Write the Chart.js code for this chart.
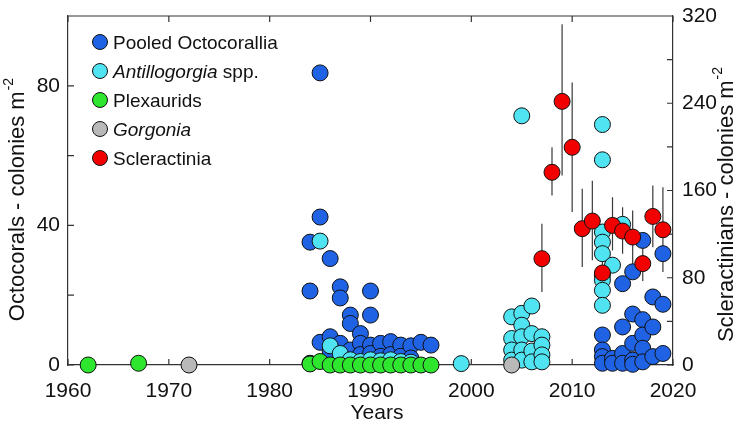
<!DOCTYPE html>
<html>
<head>
<meta charset="utf-8">
<script src="https://cdn.jsdelivr.net/npm/chart.js@4.4.0/dist/chart.umd.min.js"></script>
<style>
    body { margin: 0; background: #fff; }
    #wrap { position: relative; width: 751px; height: 425px; font-family: "Liberation Sans", Arial, sans-serif; }
    #legend { position: absolute; left: 92px; top: 34px; font-size: 19px; color: #111; }
    .row { height: 29px; line-height: 18px; white-space: nowrap; }
    .dot { display: inline-block; width: 16px; height: 16px; border-radius: 50%; border: 1px solid #111;
           box-sizing: border-box; vertical-align: top; margin-right: 5px; }
</style>
</head>
<body>
<div id="wrap">
    <canvas id="coralChart" width="751" height="425"></canvas>
    <div id="legend"></div>
</div>
<script>
// tick values
const yearTicks = [1960, 1970, 1980, 1990, 2000, 2010, 2020];
const octoTicks = [0, 40, 80];
const sclerTicks = [0, 80, 160, 240, 320];

// Pooled Octocorallia (colonies m-2)
const pooledYears = [1984, 1984, 1984, 1985, 1985, 1985, 1986, 1986, 1986, 1987, 1987, 1987,
    1988, 1988, 1988, 1989, 1989, 1989, 1990, 1990, 1990, 1990, 1991, 1991, 1992, 1992,
    1993, 1993, 1994, 1994, 1995, 1996,
    2013, 2013, 2013, 2013, 2014, 2014, 2015, 2015, 2015, 2015, 2016, 2016, 2016, 2016, 2016,
    2017, 2017, 2017, 2017, 2017, 2018, 2018, 2018, 2019, 2019, 2019];
const pooledValues = [35.2, 21.2, 0.5, 83.7, 42.4, 6.5, 30.5, 8.1, 4, 22.4, 19.2, 6.2,
    14.3, 11.9, 4.3, 9.0, 6.2, 3, 21.2, 14.3, 5.7, 3.3, 6.2, 2.5, 6.7, 3,
    5.7, 2.5, 5.5, 2, 6.5, 5.7,
    8.6, 4.3, 2.4, 0.5, 1.9, 0.5, 23.3, 10.9, 3.3, 0.5, 26.7, 14.6, 6.2, 1.4, 0.2,
    35.7, 13.0, 8.6, 4.8, 0.9, 19.5, 10.9, 2.4, 31.9, 17.4, 3.3];

// Antillogorgia spp.
const antiYears = [1985, 1986, 1987, 1988, 1989, 1990, 1991, 1992, 1993, 1994, 1999,
    2004, 2004, 2004, 2004, 2005, 2005, 2005, 2005, 2005, 2005, 2006, 2006, 2006, 2006,
    2007, 2007, 2007, 2007,
    2013, 2013, 2013, 2013, 2013, 2013, 2013, 2013, 2013, 2014, 2015];
const antiValues = [35.5, 5.5, 3.3, 1.5, 1, 1.5, 1.2, 1.5, 1, 0.8, 0.4,
    13.8, 7.6, 4.3, 1.4, 71.4, 14.8, 11.4, 8.1, 4.3, 1.4, 16.9, 9, 4, 0.9,
    8.1, 5.7, 2.9, 0.9,
    68.9, 58.8, 38.1, 35.2, 31.9, 25.7, 24.3, 21.4, 17.1, 28.6, 40.3];

// Plexaurids
const plexYears = [1962, 1967, 1984, 1985, 1986, 1987, 1988, 1989, 1990, 1991, 1992, 1993, 1994, 1995, 1996];
const plexValues = [0, 0.5, 0.3, 1.0, 0, 0, 0, 0, 0, 0, 0, 0, 0, 0, 0];

// Gorgonia
const gorgYears = [1972, 2004];
const gorgValues = [0, 0];

// Scleractinia (right axis) with error bar ends
const sclerYears = [2007, 2008, 2009, 2010, 2011, 2012, 2013, 2014, 2015, 2016, 2017, 2018, 2019];
const sclerValues = [97.5, 176.7, 241.7, 199.6, 125, 132, 84.4, 128, 122.8, 117.3, 93, 136.2, 124];
const sclerLow = [67, 155.4, 173.7, 140.2, 89.9, 96, 66, 105, 102, 86.9, 77, 108, 85.3];
const sclerHigh = [129.5, 199.6, 312.4, 259, 161.5, 169, 102, 153.9, 144.7, 141.7, 111, 164.6, 163];

const colors = {
    pooled: '#1f63e4',
    anti: '#50e4f2',
    plex: '#2ee62e',
    gorg: '#b9b9b9',
    scler: '#f20000'
};

function points(xs, ys) {
    return xs.map((x, i) => ({x: x, y: ys[i]}));
}

function series(label, xs, ys, color, order, axis) {
    return {
        label: label,
        data: points(xs, ys),
        yAxisID: axis,
        backgroundColor: color,
        borderColor: '#111',
        borderWidth: 1,
        pointRadius: 8,
        pointHoverRadius: 8,
        order: order,
        clip: false
    };
}

// inward tick marks, top frame line and error bars, under the points
const framePlugin = {
    id: 'frame',
    beforeDatasetsDraw(chart) {
        let ctx = chart.ctx;
        let a = chart.chartArea;
        let x = chart.scales.x, y = chart.scales.y, y1 = chart.scales.y1;
        ctx.save();
        ctx.strokeStyle = '#333';
        ctx.lineWidth = 1.2;
        ctx.beginPath();
        ctx.moveTo(a.left, a.top);
        ctx.lineTo(a.right, a.top);
        x.ticks.forEach(t => {
            let px = x.getPixelForValue(t.value);
            ctx.moveTo(px, a.bottom); ctx.lineTo(px, a.bottom - 6);
            ctx.moveTo(px, a.top); ctx.lineTo(px, a.top + 6);
        });
        y.ticks.forEach(t => {
            let py = y.getPixelForValue(t.value);
            ctx.moveTo(a.left, py); ctx.lineTo(a.left + 6, py);
        });
        y1.ticks.forEach(t => {
            let py = y1.getPixelForValue(t.value);
            ctx.moveTo(a.right, py); ctx.lineTo(a.right - 6, py);
        });
        ctx.stroke();

        ctx.strokeStyle = '#3a3a3a';
        ctx.lineWidth = 1.2;
        ctx.beginPath();
        sclerYears.forEach((yr, i) => {
            let px = x.getPixelForValue(yr);
            ctx.moveTo(px, y1.getPixelForValue(sclerLow[i]));
            ctx.lineTo(px, y1.getPixelForValue(sclerHigh[i]));
        });
        ctx.stroke();
        ctx.restore();
    },
    afterDraw(chart) {
        let ctx = chart.ctx;
        ctx.save();
        ctx.fillStyle = '#111';
        drawTitle(ctx, 'Octocorals - colonies m', 18, 200);
        drawTitle(ctx, 'Scleractinians - colonies m', 727, 205);
        ctx.font = '21px "Liberation Sans", Arial, sans-serif';
        ctx.textAlign = 'center';
        ctx.textBaseline = 'middle';
        ctx.fillText('Years', 377, 413);
        ctx.restore();
    }
};

function drawTitle(ctx, text, cx, cy) {
    let mainFont = '22px "Liberation Sans", Arial, sans-serif';
    let supFont = '14px "Liberation Sans", Arial, sans-serif';
    ctx.save();
    ctx.translate(cx, cy);
    ctx.rotate(-Math.PI / 2);
    ctx.font = mainFont;
    let w1 = ctx.measureText(text).width;
    ctx.font = supFont;
    let w2 = ctx.measureText('-2').width;
    let start = -(w1 + w2) / 2;
    ctx.textAlign = 'left';
    ctx.textBaseline = 'middle';
    ctx.font = mainFont;
    ctx.fillText(text, start, 0);
    ctx.font = supFont;
    ctx.fillText('-2', start + w1 + 1, -9);
    ctx.restore();
}

function buildLegend() {
    let items = [
        [colors.pooled, 'Pooled Octocorallia'],
        [colors.anti, '<i>Antillogorgia</i> spp.'],
        [colors.plex, 'Plexaurids'],
        [colors.gorg, '<i>Gorgonia</i>'],
        [colors.scler, 'Scleractinia']
    ];
    document.getElementById('legend').innerHTML = items.map(it =>
        '<div class="row"><span class="dot" style="background:' + it[0] + '"></span>' + it[1] + '</div>'
    ).join('');
}

// fixed axis sizes so the plot box sits where the original one does
function fitY(width) {
    return s => {
        s.width = width;
        s.paddingTop = 0;
        s.paddingBottom = 0;
    };
}

function manageCoralChart() {
    const tickFont = {family: '"Liberation Sans", Arial, sans-serif', size: 21};
    let ctx = document.getElementById('coralChart').getContext('2d');
    new Chart(ctx, {
        type: 'scatter',
        data: {
            datasets: [
                series('Scleractinia', sclerYears, sclerValues, colors.scler, 0, 'y1'),
                series('Gorgonia', gorgYears, gorgValues, colors.gorg, 1, 'y'),
                series('Plexaurids', plexYears, plexValues, colors.plex, 2, 'y'),
                series('Antillogorgia spp.', antiYears, antiValues, colors.anti, 3, 'y'),
                series('Pooled Octocorallia', pooledYears, pooledValues, colors.pooled, 4, 'y')
            ]
        },
        options: {
            responsive: false,
            animation: false,
            devicePixelRatio: 1,
            layout: {padding: {top: 16, left: 0, right: 0, bottom: 0}},
            plugins: {legend: {display: false}, tooltip: {enabled: false}},
            scales: {
                x: {
                    type: 'linear',
                    min: 1960, max: 2020,
                    afterBuildTicks: s => { s.ticks = yearTicks.map(v => ({value: v})); },
                    afterFit: s => { s.height = 60; s.paddingLeft = 0; s.paddingRight = 0; },
                    grid: {display: false, drawTicks: false},
                    border: {display: true, color: '#333', width: 1.2},
                    ticks: {font: tickFont, color: '#111', padding: 14, maxRotation: 0,
                        callback: v => String(v)}
                },
                y: {
                    position: 'left',
                    min: 0, max: 100,
                    afterBuildTicks: s => { s.ticks = [0, 20, 40, 60, 80, 100].map(v => ({value: v})); },
                    afterFit: fitY(68),
                    grid: {display: false, drawTicks: false},
                    border: {display: true, color: '#333', width: 1.2},
                    ticks: {font: tickFont, color: '#111', padding: 8,
                        callback: v => octoTicks.includes(v) ? String(v) : ''}
                },
                y1: {
                    position: 'right',
                    min: 0, max: 320,
                    afterBuildTicks: s => { s.ticks = [0, 40, 80, 120, 160, 200, 240, 280, 320].map(v => ({value: v})); },
                    afterFit: fitY(78),
                    grid: {display: false, drawTicks: false},
                    border: {display: true, color: '#333', width: 1.2},
                    ticks: {font: tickFont, color: '#111', padding: 9,
                        callback: v => sclerTicks.includes(v) ? String(v) : ''}
                }
            }
        },
        plugins: [framePlugin]
    });
}

buildLegend();
manageCoralChart();
</script>
</body>
</html>
